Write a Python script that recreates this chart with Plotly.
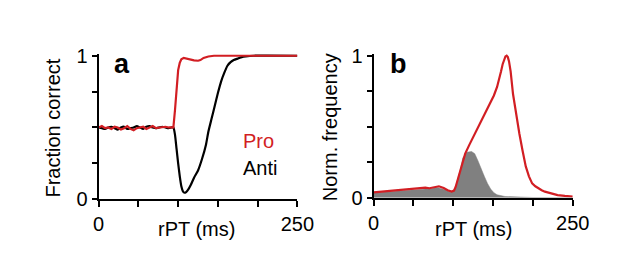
import plotly.graph_objects as go

# ---------------- data ----------------
# Panel a: fraction correct vs rPT (ms)
rpt_noise = [0, 4, 8, 12, 16, 20, 24, 28, 32, 36, 40, 44, 48, 52, 56, 60, 64, 68, 72, 76, 80, 84, 88, 92]
pro_noise = [0.50, 0.51, 0.495, 0.50, 0.49, 0.505, 0.50, 0.485, 0.495, 0.51, 0.49, 0.48,
             0.495, 0.50, 0.505, 0.49, 0.50, 0.51, 0.495, 0.50, 0.50, 0.505, 0.50, 0.50]
anti_noise = [0.50, 0.495, 0.49, 0.50, 0.505, 0.495, 0.485, 0.50, 0.505, 0.49, 0.495, 0.50,
              0.51, 0.50, 0.49, 0.505, 0.51, 0.50, 0.495, 0.50, 0.505, 0.50, 0.495, 0.50]

pro_rpt = [94, 96, 98, 100, 102, 104, 107, 110, 115, 120, 125, 128, 132, 138, 145, 250]
pro_val = [0.50, 0.62, 0.78, 0.90, 0.95, 0.975, 0.985, 0.98, 0.975, 0.968, 0.965, 0.97, 0.985, 0.995, 1.0, 1.0]

anti_rpt = [94, 96, 98, 100, 102, 104, 106, 108, 110, 113, 116, 120, 125, 130, 135, 138, 142,
            146, 150, 154, 158, 162, 166, 170, 175, 180, 185, 195, 250]
anti_val = [0.50, 0.45, 0.35, 0.25, 0.16, 0.09, 0.055, 0.045, 0.05, 0.07, 0.10, 0.15, 0.20, 0.28,
            0.38, 0.47, 0.56, 0.65, 0.74, 0.82, 0.88, 0.93, 0.955, 0.97, 0.98, 0.99, 0.995, 1.0, 1.0]

# Panel b: normalized frequency vs rPT (ms)
freq_rpt = [0, 10, 20, 30, 40, 50, 58, 65, 70, 75, 82, 88, 93, 98, 101, 103, 106, 110, 115, 120, 127,
            135, 143, 151, 155, 158, 160, 162, 164, 165.5, 167, 168.5, 170, 172, 175, 179, 183, 187,
            191, 195, 199, 203, 207, 211, 215, 223, 231, 240, 250]
freq_red = [0.037, 0.042, 0.047, 0.050, 0.055, 0.060, 0.068, 0.070, 0.066, 0.072, 0.080, 0.068,
            0.052, 0.043, 0.05, 0.075, 0.13, 0.22, 0.31, 0.37, 0.45, 0.54, 0.63, 0.72, 0.78, 0.84,
            0.89, 0.94, 0.98, 0.995, 1.0, 0.99, 0.96, 0.89, 0.73, 0.58, 0.45, 0.33, 0.22, 0.15,
            0.10, 0.08, 0.065, 0.052, 0.042, 0.028, 0.018, 0.012, 0.008]

gray_rpt = [0, 20, 40, 50, 60, 70, 80, 85, 90, 97, 102, 106, 109, 112, 117, 123, 127, 131, 135,
            139, 143, 147, 151, 155, 165, 180, 200, 250]
gray_val = [0.035, 0.044, 0.052, 0.057, 0.062, 0.062, 0.072, 0.066, 0.056, 0.038, 0.06, 0.14,
            0.20, 0.28, 0.32, 0.325, 0.31, 0.26, 0.20, 0.15, 0.10, 0.06, 0.035, 0.02, 0.008,
            0.003, 0.001, 0.0]

x_ticks = [0, 50, 100, 150, 200, 250]
x_ticktext = ["0", "", "", "", "", "250"]
y_ticks = [0, 0.25, 0.5, 0.75, 1]
y_ticktext = ["0", "", "", "", "1"]

RED = "rgb(210,30,35)"
GRAY = "rgb(128,128,128)"
FONT = "Liberation Sans, Arial, sans-serif"

OFF = 8  # default page body margin
W, H = 617 - OFF, 263 - OFF

fig = go.Figure()

# Panel a
fig.add_trace(go.Scatter(x=rpt_noise + anti_rpt, y=anti_noise + anti_val, mode="lines",
                         line=dict(color="black", width=2.2, shape="spline", smoothing=0.5),
                         xaxis="x", yaxis="y", showlegend=False))
fig.add_trace(go.Scatter(x=rpt_noise + pro_rpt, y=pro_noise + pro_val, mode="lines",
                         line=dict(color=RED, width=2.2), xaxis="x", yaxis="y", showlegend=False))

# Panel b
fig.add_trace(go.Scatter(x=gray_rpt, y=gray_val, mode="lines", fill="tozeroy",
                         fillcolor=GRAY, line=dict(color=GRAY, width=0.5),
                         xaxis="x2", yaxis="y2", showlegend=False))
fig.add_trace(go.Scatter(x=freq_rpt, y=freq_red, mode="lines",
                         line=dict(color=RED, width=2.2),
                         xaxis="x2", yaxis="y2", showlegend=False))


def px2x(p):
    return (p - OFF) / W


def px2y(p):
    return 1 - (p - OFF) / H


axis_common = dict(showgrid=False, zeroline=False, showline=True, linecolor="black", linewidth=2,
                   ticks="outside", tickcolor="black", tickwidth=1.5,
                   tickfont=dict(family=FONT, size=20, color="black"))

ytop = 47.7
fig.update_layout(
    width=W, height=H, margin=dict(l=0, r=0, t=0, b=0),
    paper_bgcolor="white", plot_bgcolor="white",
    xaxis=dict(domain=[px2x(96), px2x(302.5)], range=[0, 250], tickvals=x_ticks, ticktext=x_ticktext,
               ticklen=6, anchor="y", **axis_common),
    yaxis=dict(domain=[px2y(205.7), px2y(ytop)], range=[0, 1.015], tickvals=y_ticks, ticktext=y_ticktext,
               ticklen=5, anchor="x", **axis_common),
    xaxis2=dict(domain=[px2x(381.7), px2x(588.7)], range=[0, 250], tickvals=x_ticks, ticktext=x_ticktext,
                ticklen=6, anchor="y2", **axis_common),
    yaxis2=dict(domain=[px2y(204), px2y(ytop)], range=[0, 1.015], tickvals=y_ticks, ticktext=y_ticktext,
                ticklen=5, anchor="x2", **axis_common),
)

ann = []


def text(s, x, y, size=20, color="black", bold=False, angle=0, xanchor="center", yanchor="middle"):
    ann.append(dict(text=(f"<b>{s}</b>" if bold else s), x=px2x(x), y=px2y(y), xref="paper", yref="paper",
                    showarrow=False, font=dict(family=FONT, size=size, color=color), textangle=angle,
                    xanchor=xanchor, yanchor=yanchor))


text("a", 120.5, 59, size=27, bold=True)
text("b", 407.5, 59, size=27, bold=True)
text("Fraction correct", 48.5, 128, angle=-90)
text("Norm. frequency", 336, 128, angle=-90)
text("rPT (ms)", 198, 238)
text("rPT (ms)", 486, 238)
text("Pro", 244, 143, color=RED, xanchor="left")
text("Anti", 244, 172, xanchor="left")
fig.update_layout(annotations=ann)

fig.write_html("out.html")
